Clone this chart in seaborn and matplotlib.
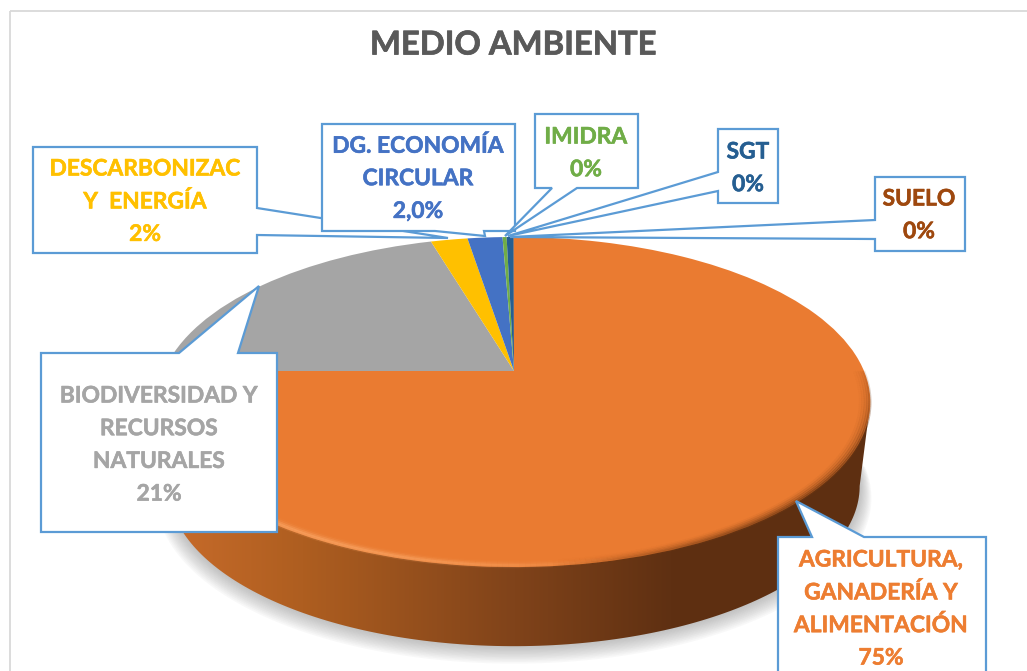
import numpy as np
import matplotlib
matplotlib.use('Agg')
import matplotlib.pyplot as plt
import matplotlib.patheffects as pe
import seaborn as sns
from matplotlib.collections import LineCollection
from matplotlib.colors import LinearSegmentedColormap
from matplotlib.patches import Polygon, Rectangle
from matplotlib.transforms import Transform

# data
categories = ['AGRICULTURA,\nGANADERÍA Y\nALIMENTACIÓN', 'BIODIVERSIDAD Y\nRECURSOS\nNATURALES',
              'DESCARBONIZAC\nY  ENERGÍA', 'DG. ECONOMÍA\nCIRCULAR', 'IMIDRA', 'SGT', 'SUELO']
values = [75.0, 20.48, 2.0, 1.9, 0.22, 0.38, 0.02]
value_labels = ['75%', '21%', '2%', '2,0%', '0%', '0%', '0%']
slice_colors = ['#EA7B31', '#A5A5A5', '#FFC000', '#4472C4', '#70AD47', '#255E91', '#9E480E']
text_colors = ['#ED7D31', '#A5A5A5', '#FFC000', '#4472C4', '#70AD47', '#255E91', '#9E480E']

# layout in pixels: callout outline, text centre x, first line y
callouts = [
    ([(778, 537), (812, 537), (796, 501), (864, 537), (986, 537), (986, 690), (778, 690)], 881, 560),
    ([(41, 353), (179, 353), (259, 286), (238, 353), (277, 353), (277, 532), (41, 532)], 159, 396),
    ([(33, 147), (257, 147), (257, 208), (448, 238), (257, 235), (257, 253), (33, 253)], 145, 169),
    ([(322, 124), (515, 124), (515, 231), (484, 231), (485, 236), (435, 231), (322, 231)], 418, 146),
    ([(535, 114), (638, 114), (638, 188), (577, 188), (505, 236), (552, 188), (535, 188)], 586, 137),
    ([(718, 129), (778, 129), (778, 203), (718, 203), (718, 191), (508, 236), (718, 172)], 748, 152),
    ([(875, 177), (965, 177), (965, 251), (875, 251), (875, 239), (510, 237), (875, 220)], 919, 199),
]
LINE_STEP = 32.7

# perspective of the pie top
CX, CY, A, B, P = 514, 371, 350, 159.2, 0.188
DROP, SHRINK = 85, 0.97


class Perspective(Transform):
    input_dims = 2
    output_dims = 2

    def transform_non_affine(self, values):
        u, v = np.asarray(values).T
        d = 1 + P * v
        return np.column_stack([CX + A * u / d, CY - B * v / d])


def rim(t, r=1.0, shift=0.0):
    """points of the disc edge, t in degrees"""
    t = np.radians(t)
    d = 1 + P * np.sin(t)
    return np.column_stack([CX + r * A * np.cos(t) / d, CY + shift - r * B * np.sin(t) / d])


def draw_side(ax):
    # soft shadow under the pie
    t = np.linspace(0, -180, 120)
    for i in range(12):
        pts = rim(t, SHRINK + 0.003 * i, DROP + 1.0 * i)
        ax.add_patch(Polygon(pts, closed=True, fc='#707070', ec='none', alpha=0.045, zorder=1))

    # side wall with horizontal gradient
    outline = np.vstack([rim(np.array([-10.8])), rim(np.linspace(-10.8, -169.2, 160), SHRINK, DROP),
                         rim(np.array([-169.2]))])
    clip = Polygon(outline, closed=True, transform=ax.transData)
    cmap = LinearSegmentedColormap.from_list('side', [(0, '#C96C2B'), (0.2, '#AE5E20'), (0.5, '#80431A'),
                                                      (0.72, '#5F3012'), (1, '#5E2F11')])
    grad = np.linspace(0, 1, 256).reshape(1, -1)
    im = ax.imshow(grad, cmap=cmap, extent=(160, 870, 660, 400), aspect='auto', zorder=2)
    im.set_clip_path(clip)


def draw_bevel(ax):
    # light edge lower left, dark edge lower right
    t = np.linspace(-180, 0, 241)
    mid = (t[:-1] + t[1:]) / 2
    light = np.clip(np.sin(np.radians((mid + 165) * 2.0)), 0, 1) * (mid > -165) * (mid < -75)
    dark = np.clip(np.sin(np.radians((mid + 85) * 2.0)), 0, 1) * (mid > -85) * (mid < 5)
    for r, a_light, a_dark in [(0.999, 0.15, 0.55), (0.993, 0.55, 0.40), (0.986, 0.35, 0.26),
                               (0.979, 0.15, 0.14), (0.972, 0.05, 0.06)]:
        pts = rim(t, r)
        segs = np.stack([pts[:-1], pts[1:]], axis=1)
        cols = np.zeros((len(mid), 4))
        cols[:, :3] = matplotlib.colors.to_rgb('#FBA868')
        cols[:, 3] = light * a_light
        ax.add_collection(LineCollection(segs, colors=cols, linewidths=2.2, zorder=4))
        cols = np.zeros((len(mid), 4))
        cols[:, :3] = matplotlib.colors.to_rgb('#6E3712')
        cols[:, 3] = dark * a_dark
        ax.add_collection(LineCollection(segs, colors=cols, linewidths=2.2, zorder=4))


def main():
    sns.set_theme(style='white')
    plt.rcParams['font.family'] = ['Lato', 'DejaVu Sans']

    fig, ax = plt.subplots(figsize=(10.27, 6.71), dpi=100)
    ax.set_position([0, 0, 1, 1])

    # pie top, squeezed through the perspective transform
    wedges, _ = ax.pie(values, colors=sns.color_palette(slice_colors), startangle=90, counterclock=False,
                       radius=1, wedgeprops={'linewidth': 0})
    persp = Perspective() + ax.transData
    for w in wedges:
        w.set_transform(persp)
        w.set_zorder(3)

    draw_side(ax)
    draw_bevel(ax)

    ax.set_aspect('auto')
    ax.set_xlim(0, 1027)
    ax.set_ylim(671, 0)
    ax.axis('off')

    # chart border
    ax.add_patch(Rectangle((9.5, 11), 1040, 700, fc='none', ec='#D9D9D9', lw=1.3, zorder=0))

    title = ax.text(513, 45, 'MEDIO AMBIENTE', ha='center', va='center', fontsize=23.6, fontweight='bold',
                    color='#595959', zorder=10)
    title.set_path_effects([pe.withStroke(linewidth=0.5, foreground='#595959')])

    # callouts: the ones listed later sit on top
    order = [2, 3, 4, 5, 6, 1, 0]
    for n, i in enumerate(order):
        pts, tx, ty = callouts[i]
        ax.add_patch(Polygon(pts, closed=True, fc='white', ec='#5B9BD5', lw=1.6, joinstyle='miter', zorder=5 + n * 0.1))
        lines = categories[i].split('\n') + [value_labels[i]]
        for k, line in enumerate(lines):
            txt = ax.text(tx, ty + k * LINE_STEP, line, ha='center', va='center', fontsize=16.4, fontweight='bold',
                          color=text_colors[i], zorder=8)
            txt.set_path_effects([pe.withStroke(linewidth=0.4, foreground=text_colors[i])])

    fig.savefig('out.png', dpi=100, facecolor='white')


if __name__ == "__main__":
    main()
